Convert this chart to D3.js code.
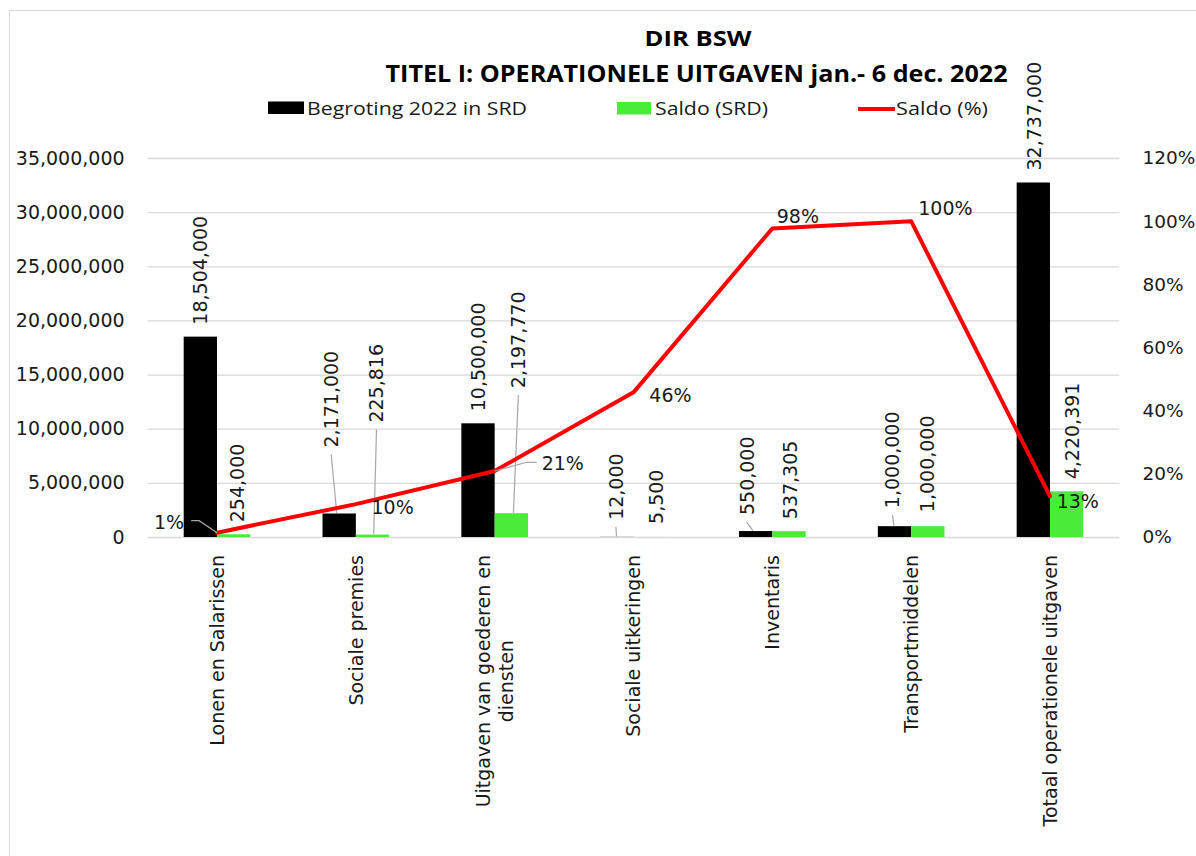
<!DOCTYPE html>
<html>
<head>
<meta charset="utf-8">
<script src="https://cdnjs.cloudflare.com/ajax/libs/d3/7.8.5/d3.min.js"></script>
<style>
  html, body { margin: 0; padding: 0; background: #fff; }
  svg { display: block; }
</style>
</head>
<body>
<svg id="chart" width="1196" height="856"></svg>
<script>
// ---------- DATA ----------
const categories = [
  "Lonen en Salarissen",
  "Sociale premies",
  "Uitgaven van goederen en diensten",
  "Sociale uitkeringen",
  "Inventaris",
  "Transportmiddelen",
  "Totaal operationele uitgaven"
];
const begroting = [18504000, 2171000, 10500000, 12000, 550000, 1000000, 32737000];
const saldo = [254000, 225816, 2197770, 5500, 537305, 1000000, 4220391];
const saldoPct = [0.0137, 0.104, 0.209, 0.458, 0.977, 1.0, 0.129];
const leftTicks = [0, 5000000, 10000000, 15000000, 20000000, 25000000, 30000000, 35000000];
const rightTicks = [0, 0.2, 0.4, 0.6, 0.8, 1.0, 1.2];
const seriesNames = ["Begroting 2022 in SRD", "Saldo (SRD)", "Saldo (%)"];
const title1 = "DIR BSW";
const title2 = "TITEL I: OPERATIONELE UITGAVEN jan.- 6 dec. 2022";

// ---------- LAYOUT / STYLE ----------
const FONT = "'DejaVu Sans', sans-serif";
const TFONT = "'Open Sans', sans-serif";
const colBlack = "#000000", colGreen = "#4BEB3A", colRed = "#FF0000";
const gridCol = "#D9D9D9", leaderCol = "#A6A6A6";
const plot = { left: 147.6, right: 1119.4, top: 158, bottom: 537 };
// manual label nudges (dx, dy) relative to default placement
const begLabelNudge = [[0,0],[-8,-54],[0,0],[-1,-5],[-9,-4],[-2,-6],[1,0]];
const salLabelNudge = [[3,0],[4,-100],[7,-113],[6,-1],[1,0],[-1,-2],[6,0]];
const begLeader = [false,true,false,true,true,true,false];
const salLeader = [false,true,true,false,false,false,false];
const pctLabelOffset = [[-63,-11],[15.7,3],[47,-7.7],[15.8,2.6],[4.4,-11.8],[7.1,-12.9],[6.7,5.4]];

const svg = d3.select("#chart");

// chart border
svg.append("rect").attr("x", 9.5).attr("y", 10.5).attr("width", 1400).attr("height", 1000)
  .attr("fill", "none").attr("stroke", gridCol).attr("stroke-width", 1);

// scales
const x = d3.scaleBand().domain(categories).range([plot.left, plot.right]).paddingInner(0).paddingOuter(0);
const yL = d3.scaleLinear().domain([0, 35000000]).range([plot.bottom, plot.top]);
const yR = d3.scaleLinear().domain([0, 1.2]).range([plot.bottom, plot.top]);
const bw = x.bandwidth() * 0.24;
const cx = c => x(c) + x.bandwidth() / 2;

// gridlines
const grid = svg.append("g").attr("transform", `translate(${plot.left},0)`)
  .call(d3.axisLeft(yL).tickValues(leftTicks).tickSize(-(plot.right - plot.left)).tickFormat(""));
grid.select(".domain").remove();
grid.selectAll("line").attr("stroke", gridCol).attr("stroke-width", 1.3);

// left axis
const ax = svg.append("g").attr("transform", `translate(${plot.left},0)`)
  .call(d3.axisLeft(yL).tickValues(leftTicks).tickSize(0).tickPadding(23).tickFormat(d3.format(",")));
ax.select(".domain").remove();
ax.selectAll("text").attr("font-family", FONT).attr("font-size", 19).attr("fill", "#1a1a1a");

// right axis
const ar = svg.append("g").attr("transform", `translate(${plot.right},0)`)
  .call(d3.axisRight(yR).tickValues(rightTicks).tickSize(0).tickPadding(23).tickFormat(d3.format(".0%")));
ar.select(".domain").remove();
ar.selectAll("text").attr("font-family", FONT).attr("font-size", 18.5).attr("fill", "#1a1a1a");

// bars
svg.append("g").selectAll("rect").data(categories).join("rect")
  .attr("x", (c) => cx(c) - bw).attr("width", bw)
  .attr("y", (c, i) => yL(begroting[i])).attr("height", (c, i) => plot.bottom - yL(begroting[i]))
  .attr("fill", colBlack);
svg.append("g").selectAll("rect").data(categories).join("rect")
  .attr("x", (c) => cx(c)).attr("width", bw)
  .attr("y", (c, i) => yL(saldo[i])).attr("height", (c, i) => plot.bottom - yL(saldo[i]))
  .attr("fill", colGreen);

// bar data labels
const fmt = d3.format(",");
function barLabels(values, barCenterOff, nudge, leaders) {
  const g = svg.append("g");
  values.forEach((v, i) => {
    const bc = cx(categories[i]) + barCenterOff;
    const top = yL(v);
    const lx = bc + nudge[i][0];
    const bottom = top - 12 + nudge[i][1];
    g.append("text")
      .attr("transform", `translate(${lx},${bottom}) rotate(-90)`)
      .attr("text-anchor", "start").attr("dy", "0.36em")
      .attr("font-family", FONT).attr("font-size", 19).attr("fill", "#1a1a1a")
      .text(fmt(v));
    if (leaders[i]) {
      const ex = lx + (bc - lx) * 0.7;
      g.append("line").attr("x1", lx).attr("y1", bottom + 7).attr("x2", ex).attr("y2", top - 0.5)
        .attr("stroke", leaderCol).attr("stroke-width", 1.2);
    }
  });
}
barLabels(begroting, -bw / 2, begLabelNudge, begLeader);
barLabels(saldo, bw / 2, salLabelNudge, salLeader);

// line
const line = d3.line().x((d, i) => cx(categories[i])).y(d => yR(d));
svg.append("path").datum(saldoPct).attr("d", line)
  .attr("fill", "none").attr("stroke", colRed).attr("stroke-width", 4)
  .attr("stroke-linejoin", "round").attr("stroke-linecap", "round");

// percent labels
const pg = svg.append("g");
saldoPct.forEach((v, i) => {
  const px = cx(categories[i]), py = yR(v);
  const lx = px + pctLabelOffset[i][0], ly = py + pctLabelOffset[i][1];
  const t = pg.append("text").attr("x", lx).attr("y", ly).attr("dy", "0.36em")
    .attr("font-family", FONT).attr("font-size", 19).attr("fill", "#1a1a1a")
    .text(d3.format(".0%")(v));
  if (i === 0) {
    const w = t.node().getComputedTextLength();
    pg.append("polyline").attr("points", `${lx + w + 7},${ly - 1} ${lx + w + 15},${ly - 1} ${px},${py}`)
      .attr("fill", "none").attr("stroke", leaderCol).attr("stroke-width", 1.2);
  }
  if (i === 2) {
    pg.append("polyline").attr("points", `${lx - 5},${ly - 1} ${lx - 15},${ly - 1} ${px},${py}`)
      .attr("fill", "none").attr("stroke", leaderCol).attr("stroke-width", 1.2);
  }
});

// category labels (rotated, wrapped)
const cg = svg.append("g");
categories.forEach((c) => {
  const tmp = cg.append("text").attr("font-family", FONT).attr("font-size", 19).text(c);
  const full = tmp.node().getComputedTextLength();
  let lines = [c];
  if (full > 300) {
    const words = c.split(" ");
    lines = []; let cur = "";
    words.forEach(w => {
      const test = cur ? cur + " " + w : w;
      tmp.text(test);
      if (tmp.node().getComputedTextLength() > 300 && cur) { lines.push(cur); cur = w; }
      else cur = test;
    });
    lines.push(cur);
  }
  let maxLen = 0;
  lines.forEach(l => { tmp.text(l); maxLen = Math.max(maxLen, tmp.node().getComputedTextLength()); });
  tmp.remove();
  const n = lines.length, lh = 24;
  const t = cg.append("text")
    .attr("transform", `translate(${cx(c)},${555 + maxLen / 2}) rotate(-90)`)
    .attr("font-family", FONT).attr("font-size", 19).attr("fill", "#1a1a1a")
    .attr("text-anchor", "middle");
  lines.forEach((l, k) => {
    t.append("tspan").attr("x", 0).attr("y", (k - (n - 1) / 2) * lh).attr("dy", "0.36em").text(l);
  });
});

// titles
svg.append("text").attr("x", 698).attr("y", 46).attr("text-anchor", "middle")
  .attr("font-family", TFONT).attr("font-weight", "bold").attr("font-size", 22)
  .attr("textLength", 107).attr("lengthAdjust", "spacingAndGlyphs").attr("fill", "#000").text(title1);
svg.append("text").attr("x", 696.5).attr("y", 82).attr("text-anchor", "middle")
  .attr("font-family", TFONT).attr("font-weight", "bold").attr("font-size", 22.5)
  .attr("textLength", 622).attr("lengthAdjust", "spacingAndGlyphs").attr("fill", "#000").text(title2);

// legend
const lg = svg.append("g");
lg.append("rect").attr("x", 268).attr("y", 101.5).attr("width", 36).attr("height", 12.5).attr("fill", colBlack);
lg.append("text").attr("x", 307).attr("y", 114.5).attr("font-family", TFONT).attr("font-size", 18.5)
  .attr("textLength", 220).attr("lengthAdjust", "spacingAndGlyphs").attr("fill", "#1a1a1a").text(seriesNames[0]);
lg.append("rect").attr("x", 617).attr("y", 102).attr("width", 34).attr("height", 12.5).attr("fill", colGreen);
lg.append("text").attr("x", 655).attr("y", 114.5).attr("font-family", TFONT).attr("font-size", 18.5)
  .attr("textLength", 113).attr("lengthAdjust", "spacingAndGlyphs").attr("fill", "#1a1a1a").text(seriesNames[1]);
lg.append("line").attr("x1", 858).attr("x2", 895).attr("y1", 109).attr("y2", 109)
  .attr("stroke", colRed).attr("stroke-width", 4);
lg.append("text").attr("x", 896).attr("y", 114.5).attr("font-family", TFONT).attr("font-size", 18.5)
  .attr("textLength", 92).attr("lengthAdjust", "spacingAndGlyphs").attr("fill", "#1a1a1a").text(seriesNames[2]);
</script>
</body>
</html>
